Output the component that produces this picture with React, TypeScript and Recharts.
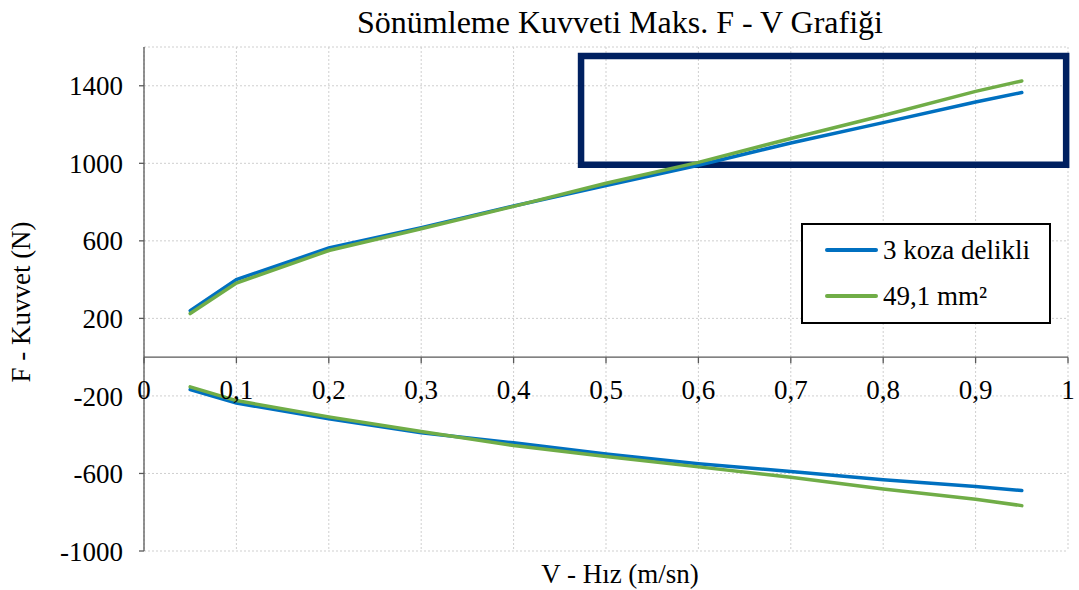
import React from 'react'
import {
  LineChart,
  Line,
  XAxis,
  YAxis,
  CartesianGrid,
  ReferenceLine,
  ReferenceArea
} from 'recharts'

// V - Hız (m/sn)
const velocity = [0.05, 0.1, 0.2, 0.3, 0.4, 0.5, 0.6, 0.7, 0.8, 0.9, 0.95]
// 3 koza delikli (basma / çekme)
const kozaUp = [240, 400, 563, 668, 780, 885, 990, 1105, 1210, 1316, 1365]
const kozaDown = [-167, -237, -318, -390, -442, -500, -550, -590, -633, -667, -688]
// 49,1 mm²
const mmUp = [225, 382, 550, 662, 778, 897, 1005, 1128, 1247, 1371, 1425]
const mmDown = [-153, -224, -308, -383, -456, -512, -566, -619, -680, -733, -766]

const xTicks = [0, 0.1, 0.2, 0.3, 0.4, 0.5, 0.6, 0.7, 0.8, 0.9, 1]
const yTicks = [-1000, -600, -200, 200, 600, 1000, 1400]
const Y_MIN = -1000
const Y_MAX = 1600

// vurgulanan bölge
const boxX = [0.473, 0.998]
const boxY = [992, 1553]

const BLUE = '#0070C0'
const GREEN = '#70AD47'
const AXIS = '#595959'
const FONT = '"Times New Roman", "Liberation Serif", serif'

const W = 1079
const H = 590
const PLOT_TOP = 47
const PLOT_BOTTOM = 551
const zeroY = PLOT_TOP + ((PLOT_BOTTOM - PLOT_TOP) * Y_MAX) / (Y_MAX - Y_MIN)

const data = velocity.map((v, i) => ({
  v,
  kozaUp: kozaUp[i],
  kozaDown: kozaDown[i],
  mmUp: mmUp[i],
  mmDown: mmDown[i]
}))

const legendItems = [
  { name: '3 koza delikli', color: BLUE },
  { name: '49,1 mm²', color: GREEN }
]

const fmt = (n: number) => String(n).replace('.', ',')

function XTick({ x, payload }: any) {
  return (
    <g>
      <line x1={x} x2={x} y1={zeroY} y2={zeroY + 6} stroke={AXIS} strokeWidth={1.3} />
      <text x={x} y={zeroY + 42} textAnchor="middle" fill="#000" fontSize={27} fontFamily={FONT}>
        {fmt(payload.value)}
      </text>
    </g>
  )
}

function LegendBox() {
  return (
    <div
      style={{
        position: 'absolute',
        left: 801,
        top: 223,
        width: 246,
        height: 95,
        border: '2px solid #000',
        background: '#fff',
        fontFamily: FONT,
        fontSize: 27,
        color: '#000',
        paddingTop: 2
      }}
    >
      {legendItems.map((it) => (
        <div key={it.name} style={{ display: 'flex', alignItems: 'center', height: 46 }}>
          <span
            style={{
              display: 'inline-block',
              width: 53,
              height: 4,
              borderRadius: 2,
              background: it.color,
              marginLeft: 22,
              marginRight: 5
            }}
          />
          <span>{it.name}</span>
        </div>
      ))}
    </div>
  )
}

export default function App() {
  return (
    <div style={{ position: 'absolute', left: 0, top: 0, width: W, height: H, background: '#fff' }}>
      <LineChart
        width={W}
        height={H}
        data={data}
        margin={{ top: PLOT_TOP, right: 11, bottom: 9, left: 74 }}
      >
        <CartesianGrid stroke="#cfcfcf" strokeDasharray="2 2" />
        <XAxis
          dataKey="v"
          type="number"
          domain={[0, 1]}
          ticks={xTicks}
          axisLine={false}
          tickLine={false}
          height={30}
          tick={<XTick />}
        />
        <YAxis
          type="number"
          domain={[Y_MIN, Y_MAX]}
          ticks={yTicks}
          width={70}
          axisLine={{ stroke: AXIS, strokeWidth: 1.3 }}
          tickLine={{ stroke: AXIS, strokeWidth: 1.3 }}
          tickSize={5}
          tickMargin={16}
          tick={{ fill: '#000', fontSize: 27, fontFamily: FONT }}
        />
        <ReferenceLine y={0} stroke={AXIS} strokeWidth={1.3} />
        <Line dataKey="kozaUp" name="3 koza delikli" stroke={BLUE} strokeWidth={3.5} dot={false} isAnimationActive={false} strokeLinecap="round" />
        <Line dataKey="kozaDown" name="3 koza delikli" stroke={BLUE} strokeWidth={3.5} dot={false} isAnimationActive={false} strokeLinecap="round" />
        <Line dataKey="mmUp" name="49,1 mm²" stroke={GREEN} strokeWidth={3.5} dot={false} isAnimationActive={false} strokeLinecap="round" />
        <Line dataKey="mmDown" name="49,1 mm²" stroke={GREEN} strokeWidth={3.5} dot={false} isAnimationActive={false} strokeLinecap="round" />
        <ReferenceArea
          x1={boxX[0]}
          x2={boxX[1]}
          y1={boxY[0]}
          y2={boxY[1]}
          fill="none"
          stroke="#002060"
          strokeWidth={6.5}
        />
        <text x={620} y={33} textAnchor="middle" fontSize={32} fontFamily={FONT} fill="#000">
          Sönümleme Kuvveti Maks. F - V Grafiği
        </text>
        <text
          x={30}
          y={302}
          textAnchor="middle"
          fontSize={27}
          fontFamily={FONT}
          fill="#000"
          transform="rotate(-90 30 302)"
        >
          F - Kuvvet (N)
        </text>
        <text x={620} y={583} textAnchor="middle" fontSize={27} fontFamily={FONT} fill="#000">
          V - Hız (m/sn)
        </text>
      </LineChart>
      <LegendBox />
    </div>
  )
}
